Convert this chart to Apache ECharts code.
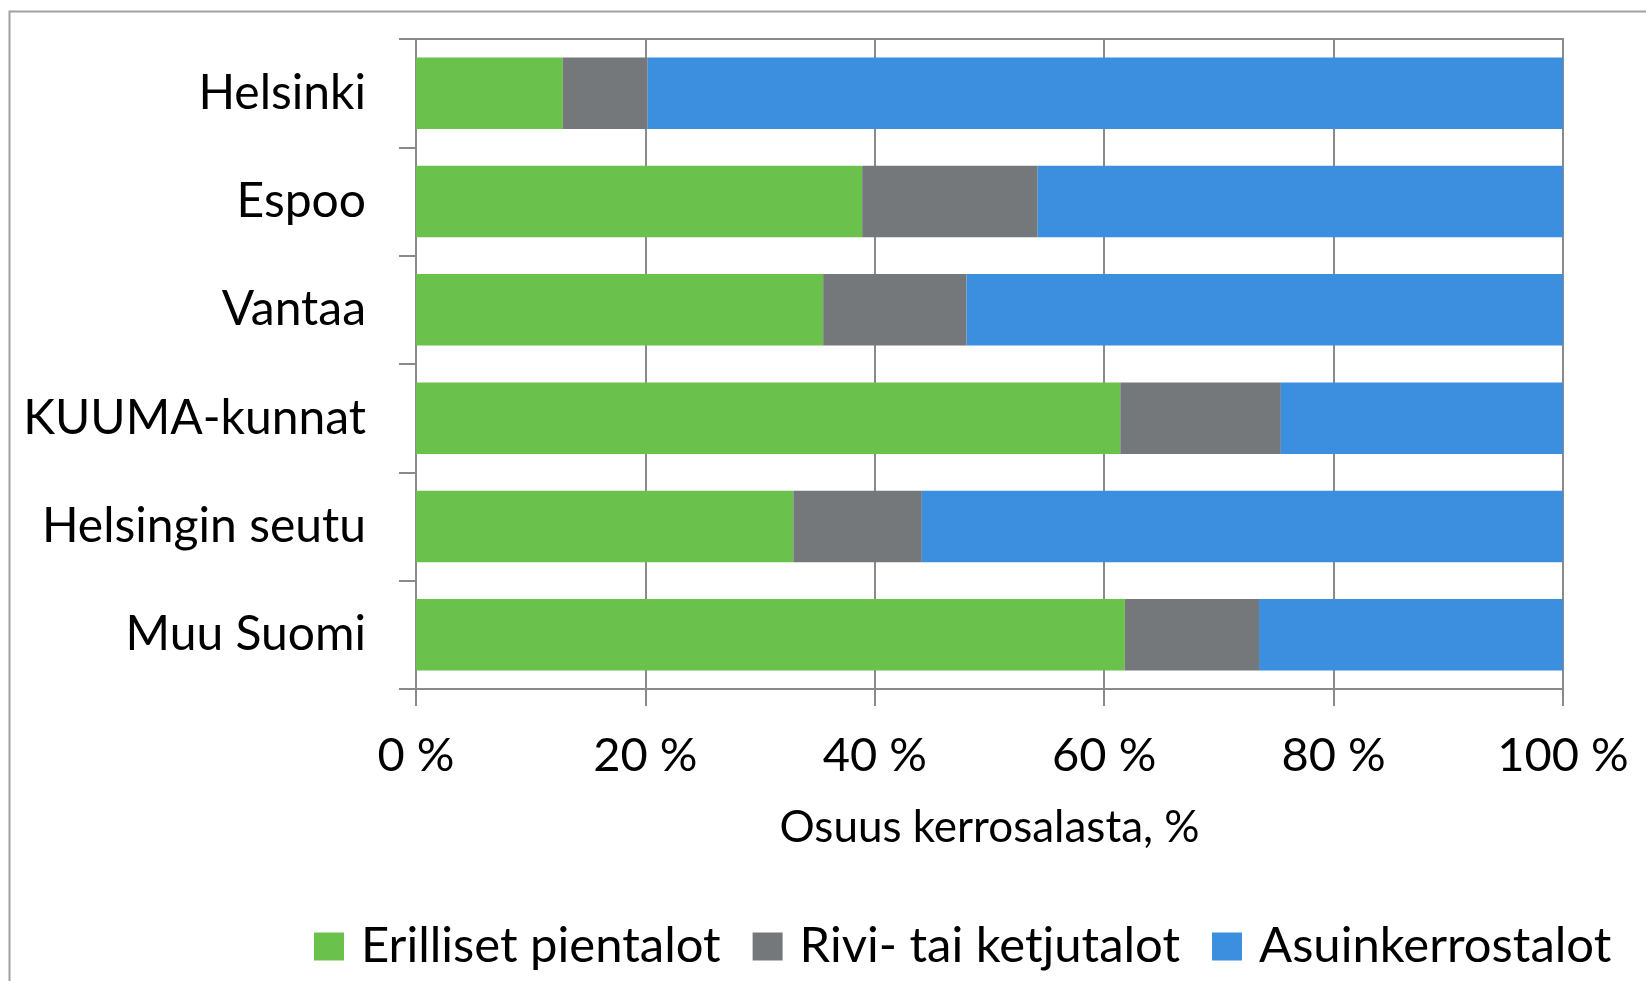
<!DOCTYPE html>
<html>
<head>
<meta charset="utf-8">
<script src="https://cdn.jsdelivr.net/npm/echarts@6/dist/echarts.min.js"></script>
<style>
  html, body { margin: 0; padding: 0; background: #fff; }
  #chart { width: 1646px; height: 981px; }
</style>
</head>
<body>
<div id="chart"></div>
<script>
// alueet ylhäältä alas
var categories = ['Helsinki', 'Espoo', 'Vantaa', 'KUUMA-kunnat', 'Helsingin seutu', 'Muu Suomi'];
var seriesNames = ['Erilliset pientalot', 'Rivi- tai ketjutalot', 'Asuinkerrostalot'];
// osuudet kerrosalasta, %
var erilliset = [12.8, 38.9, 35.5, 61.4, 32.9, 61.8];
var rivitalot = [7.4, 15.3, 12.5, 14.0, 11.2, 11.7];
var kerrostalot = [79.8, 45.8, 52.0, 24.6, 55.9, 26.5];
var xTicks = [0, 20, 40, 60, 80, 100];

function init() {
    var chart = echarts.init(document.getElementById('chart'));
    var font = 'Lato, "Open Sans", sans-serif';
    var lineColor = '#8a8a8a';
    var colors = ['#6AC24C', '#75787B', '#3C8EDE'];
    var values = [erilliset, rivitalot, kerrostalot];

    var series = [];
    for (var i = 0; i < seriesNames.length; i++) {
        series.push({
            name: seriesNames[i],
            type: 'bar',
            stack: 'total',
            barCategoryGap: '34%',
            data: values[i],
            itemStyle: { color: colors[i] }
        });
    }

    chart.setOption({
        backgroundColor: '#fff',
        animation: false,
        color: colors,
        textStyle: { fontFamily: font },
        graphic: [{
            type: 'rect',
            shape: { x: 9.5, y: 11.5, width: 2000, height: 2000 },
            style: { fill: 'none', stroke: '#a0a0a0', lineWidth: 2 },
            silent: true
        }],
        grid: {
            left: 416,
            right: 83,
            top: 39,
            bottom: 292,
            show: true,
            borderColor: lineColor,
            borderWidth: 2,
            backgroundColor: 'transparent'
        },
        legend: {
            left: 309,
            top: 917,
            itemWidth: 30,
            itemHeight: 28,
            itemGap: 32,
            icon: 'rect',
            data: seriesNames,
            textStyle: {
                fontFamily: font,
                fontSize: 49,
                lineHeight: 48,
                color: '#000',
                padding: [0, 0, 0, 12]
            }
        },
        xAxis: {
            type: 'value',
            min: xTicks[0],
            max: xTicks[xTicks.length - 1],
            interval: xTicks[1] - xTicks[0],
            name: 'Osuus kerrosalasta, %',
            nameLocation: 'middle',
            nameGap: 117,
            nameTextStyle: { fontFamily: font, fontSize: 44, color: '#000' },
            axisLine: { show: true, lineStyle: { color: lineColor, width: 2 } },
            axisTick: { show: true, length: 17, lineStyle: { color: lineColor, width: 2 } },
            splitLine: { show: true, lineStyle: { color: lineColor, width: 2 } },
            axisLabel: {
                margin: 43,
                fontFamily: font,
                fontSize: 47,
                color: '#000',
                formatter: '{value} %'
            }
        },
        yAxis: {
            type: 'category',
            inverse: true,
            data: categories,
            axisLine: { show: true, lineStyle: { color: lineColor, width: 2 } },
            axisTick: { show: true, length: 17, lineStyle: { color: lineColor, width: 2 } },
            axisLabel: {
                margin: 50,
                fontFamily: font,
                fontSize: 48,
                color: '#000'
            }
        },
        series: series
    });
}
document.addEventListener('DOMContentLoaded', init);
</script>
</body>
</html>
